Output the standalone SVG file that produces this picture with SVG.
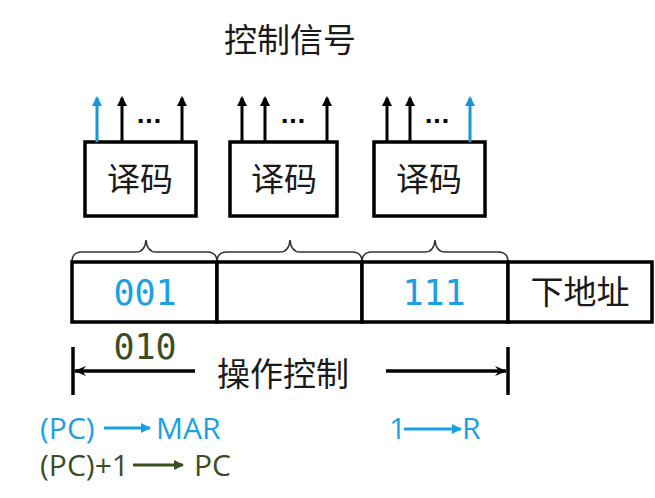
<svg xmlns="http://www.w3.org/2000/svg" width="655" height="498" viewBox="0 0 655 498">
<defs>
<style>
.cjk{font-family:"Noto Sans CJK SC","Noto Sans CJK TC",sans-serif;font-size:33px;fill:#1a1a1a;text-anchor:middle}
.box{fill:#fff;stroke:#000;stroke-width:3.5}
.sig{stroke:#000;stroke-width:3;fill:none}
.sigb{stroke:#1a96d6;stroke-width:3;fill:none}
.dots{font-family:"DejaVu Sans",sans-serif;font-size:22px;font-weight:bold;fill:#000;text-anchor:middle}
.code{font-family:"DejaVu Sans Mono",monospace;font-size:35px;text-anchor:middle}
.brace{fill:none;stroke:#333;stroke-width:1.5}
.eq{font-family:"Open Sans","Noto Sans",sans-serif;font-size:30px}
.blue{fill:#1ba0e2}
.olive{fill:#3c4d1f}
</style>
<marker id="hk" viewBox="0 0 10 10" refX="8" refY="5" markerWidth="10" markerHeight="10" markerUnits="userSpaceOnUse" orient="auto"><path d="M0,0 L10,5 L0,10 z" fill="#000"/></marker>
<marker id="hb" viewBox="0 0 10 10" refX="8" refY="5" markerWidth="10" markerHeight="10" markerUnits="userSpaceOnUse" orient="auto"><path d="M0,0 L10,5 L0,10 z" fill="#1a96d6"/></marker>
<marker id="dim" viewBox="0 0 12 12" refX="11" refY="6" markerWidth="12" markerHeight="12" markerUnits="userSpaceOnUse" orient="auto"><path d="M0,1 L12,6 L0,11 L4,6 z" fill="#000"/></marker>
<marker id="sb" viewBox="0 0 10 10" refX="9" refY="5" markerWidth="10" markerHeight="10" markerUnits="userSpaceOnUse" orient="auto"><path d="M0,0 L10,5 L0,10 z" fill="#1ba0e2"/></marker>
<marker id="so" viewBox="0 0 10 10" refX="9" refY="5" markerWidth="10" markerHeight="10" markerUnits="userSpaceOnUse" orient="auto"><path d="M0,0 L10,5 L0,10 z" fill="#3c4d1f"/></marker>
</defs>
<rect width="655" height="498" fill="#fff"/>

<g id="title"><text class="cjk" x="290" y="52">控制信号</text></g>

<g id="decoder1">
<rect class="box" x="85" y="142" width="111" height="74"/>
<text class="cjk" x="140" y="191">译码</text>
<line class="sigb" x1="97" y1="142" x2="97" y2="98" marker-end="url(#hb)"/>
<line class="sig" x1="122" y1="142" x2="122" y2="98" marker-end="url(#hk)"/>
<line class="sig" x1="182" y1="142" x2="182" y2="98" marker-end="url(#hk)"/>
<text class="dots" x="149" y="128">···</text>
</g>

<g id="decoder2">
<rect class="box" x="230" y="142" width="107" height="74"/>
<text class="cjk" x="284" y="191">译码</text>
<line class="sig" x1="242" y1="142" x2="242" y2="98" marker-end="url(#hk)"/>
<line class="sig" x1="265" y1="142" x2="265" y2="98" marker-end="url(#hk)"/>
<line class="sig" x1="327" y1="142" x2="327" y2="98" marker-end="url(#hk)"/>
<text class="dots" x="293" y="128">···</text>
</g>

<g id="decoder3">
<rect class="box" x="374" y="142" width="111" height="74"/>
<text class="cjk" x="429" y="191">译码</text>
<line class="sig" x1="387" y1="142" x2="387" y2="98" marker-end="url(#hk)"/>
<line class="sig" x1="410" y1="142" x2="410" y2="98" marker-end="url(#hk)"/>
<line class="sigb" x1="470" y1="142" x2="470" y2="98" marker-end="url(#hb)"/>
<text class="dots" x="437" y="128">···</text>
</g>

<g id="braces">
<path class="brace" d="M72,262 Q72,252 82,252 L136,252 Q145,252 146,240 Q147,252 156,252 L207,252 Q217,252 217,262"/>
<path class="brace" d="M217,262 Q217,252 227,252 L280,252 Q289,252 290,240 Q291,252 300,252 L352,252 Q362,252 362,262"/>
<path class="brace" d="M362,262 Q362,252 372,252 L425,252 Q434,252 435,240 Q436,252 445,252 L498,252 Q508,252 508,262"/>
</g>

<g id="register">
<rect class="box" x="72" y="262" width="145" height="60"/>
<rect class="box" x="217" y="262" width="145" height="60"/>
<rect class="box" x="362" y="262" width="146" height="60"/>
<rect class="box" x="508" y="262" width="144" height="60"/>
<text class="code blue" x="145" y="305">001</text>
<text class="code blue" x="434" y="305">111</text>
<text class="cjk" x="580" y="304">下地址</text>
</g>

<g id="op-label">
<text class="code olive" x="145" y="359">010</text>
<text class="cjk" x="283" y="386">操作控制</text>
</g>

<g id="connectors">
<line x1="73" y1="347" x2="73" y2="395" stroke="#000" stroke-width="3.5"/>
<line x1="508" y1="347" x2="508" y2="395" stroke="#000" stroke-width="3.5"/>
<line x1="195" y1="371" x2="75" y2="371" stroke="#000" stroke-width="3.5" marker-end="url(#dim)"/>
<line x1="386" y1="371" x2="506" y2="371" stroke="#000" stroke-width="3.5" marker-end="url(#dim)"/>
<line x1="104" y1="428" x2="150" y2="428" stroke="#1ba0e2" stroke-width="3" marker-end="url(#sb)"/>
<line x1="133" y1="465" x2="183" y2="465" stroke="#3c4d1f" stroke-width="3" marker-end="url(#so)"/>
<line x1="404" y1="429" x2="461" y2="429" stroke="#1ba0e2" stroke-width="3" marker-end="url(#sb)"/>
</g>

<g id="micro-ops">
<text class="eq blue" x="40" y="439">(PC)</text>
<text class="eq blue" x="156" y="439">MAR</text>
<text class="eq olive" x="40" y="476">(PC)+1</text>
<text class="eq olive" x="194" y="476">PC</text>
<text class="eq blue" x="389" y="439">1</text>
<text class="eq blue" x="462" y="439">R</text>
</g>
</svg>
